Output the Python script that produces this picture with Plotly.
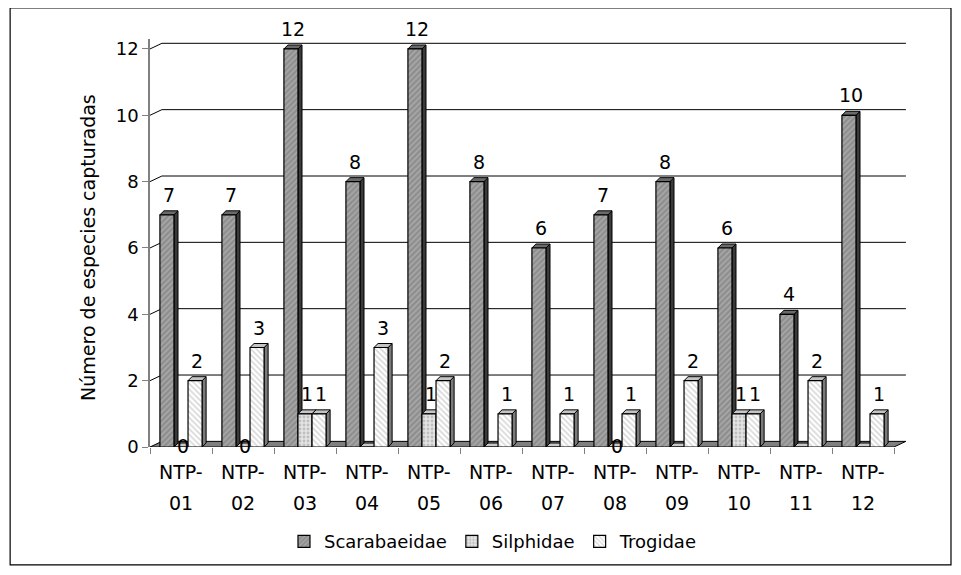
import plotly.graph_objects as go

sites = ['NTP-01', 'NTP-02', 'NTP-03', 'NTP-04', 'NTP-05', 'NTP-06',
         'NTP-07', 'NTP-08', 'NTP-09', 'NTP-10', 'NTP-11', 'NTP-12']
scarabaeidae = [7, 7, 12, 8, 12, 8, 6, 7, 8, 6, 4, 10]
silphidae = [0, 0, 1, 0, 1, 0, 0, 0, 0, 1, 0, 0]
trogidae = [2, 3, 1, 3, 2, 1, 1, 1, 2, 1, 2, 1]
# only some of the Silphidae values carry a label in the original
silph_shown = [True, True, True, False, True, False, False, True, False, True, False, False]
y_ticks = [0, 2, 4, 6, 8, 10, 12]

FONT = 'DejaVu Sans, Liberation Sans, Arial, sans-serif'

series = [
    dict(name='Scarabaeidae', y=scarabaeidae, shown=[True] * len(sites),
         bg='#8e8e8e', fg='#c4c4c4', shape='/', side='#3a3a3a', top='#6a6a6a'),
    dict(name='Silphidae', y=silphidae, shown=silph_shown,
         bg='#e4e4e4', fg='#9a9a9a', shape='.', side='#8a8a8a', top='#c8c8c8'),
    dict(name='Trogidae', y=trogidae, shown=[True] * len(sites),
         bg='white', fg='#b0b0b0', shape='\\', side='#7a7a7a', top='#c4c4c4'),
]

bargap = 0.32
bar_w = (1 - bargap) / len(series)
depth_x = 0.065   # category units
depth_y = 0.12    # value units

fig = go.Figure()
for j, s in enumerate(series):
    fig.add_trace(
        go.Bar(
            x=sites, y=s['y'], name=s['name'],
            marker=dict(color=s['bg'], line=dict(color='black', width=1.2),
                        pattern=dict(shape=s['shape'], fgcolor=s['fg'], bgcolor=s['bg'],
                                     size=4, solidity=0.4))
        )
    )
    for i, v in enumerate(s['y']):
        left = i + (j - 1) * bar_w - bar_w / 2
        right = left + bar_w
        # 3D side and top faces of each bar
        fig.add_shape(type='path', xref='x', yref='y', layer='below',
                      path=f'M {right},0 L {right},{v} L {right + depth_x},{v + depth_y} '
                           f'L {right + depth_x},{depth_y} Z',
                      fillcolor=s['side'], line=dict(color='black', width=1))
        fig.add_shape(type='path', xref='x', yref='y', layer='below',
                      path=f'M {left},{v} L {left + depth_x},{v + depth_y} '
                           f'L {right + depth_x},{v + depth_y} L {right},{v} Z',
                      fillcolor=s['top'], line=dict(color='black', width=1))
        # value label
        if s['shown'][i]:
            fig.add_annotation(x=(left + right) / 2 + depth_x / 2, y=v + depth_y,
                               xref='x', yref='y', text=str(v), showarrow=False,
                               yanchor='bottom' if v > 0 else 'middle',
                               yshift=3 if v > 0 else -3,
                               font=dict(size=19, color='black'))

# back wall gridlines and floor
wall_dx = 0.016
wall_dy = 0.17
for v in y_ticks[1:]:
    fig.add_shape(type='path', xref='paper', yref='y', layer='below',
                  path=f'M 0,{v} L {wall_dx},{v + wall_dy} L {1 + wall_dx},{v + wall_dy}',
                  line=dict(color='black', width=1))
fig.add_shape(type='path', xref='paper', yref='y', layer='below',
              path=f'M 0,0 L {wall_dx},{wall_dy} L {1 + wall_dx},{wall_dy} L 1,0 Z',
              fillcolor='#808080', line=dict(color='black', width=1))

# outer frame (paper coords of this plot area)
fig.add_shape(type='rect', xref='paper', yref='paper',
              x0=-0.188, x1=1.0766, y0=-0.289, y1=1.076,
              line=dict(color='black', width=1.2))

# two-line category labels
for s in sites:
    head, num = s.split('-')
    fig.add_annotation(x=s, xref='x', yref='paper', y=-0.0613, text=head + '-',
                       showarrow=False, font=dict(size=19), yanchor='middle')
    fig.add_annotation(x=s, xref='x', yref='paper', y=-0.1373, text=num,
                       showarrow=False, font=dict(size=19), yanchor='middle')

fig.add_annotation(x=-0.0833, y=0.488, xref='paper', yref='paper', textangle=-90,
                   text='Número de especies capturadas', showarrow=False,
                   font=dict(size=19), xanchor='center', yanchor='middle')

fig.update_layout(
    width=961, height=575,
    margin=dict(l=142, r=75, t=31, b=136),
    paper_bgcolor='white', plot_bgcolor='rgba(0,0,0,0)',
    font=dict(family=FONT, color='black', size=16),
    barmode='group', bargap=bargap, bargroupgap=0,
    showlegend=True,
    legend=dict(orientation='h', x=0.461, xanchor='center', y=-0.232, yanchor='middle',
                font=dict(size=18), itemwidth=30, tracegroupgap=0),
)
fig.update_xaxes(tickmode='array', tickvals=sites, showticklabels=False,
                 tickson='boundaries', ticks='outside', ticklen=6, tickcolor='#808080',
                 showline=False, showgrid=False, range=[-0.5, 11.5])
fig.update_yaxes(range=[0, 12.3], tickvals=y_ticks, showgrid=False,
                 ticks='outside', ticklen=6, tickcolor='#808080',
                 showline=True, linecolor='#808080', linewidth=1.5,
                 zeroline=False, tickfont=dict(size=18))

fig.write_html('out.html')
